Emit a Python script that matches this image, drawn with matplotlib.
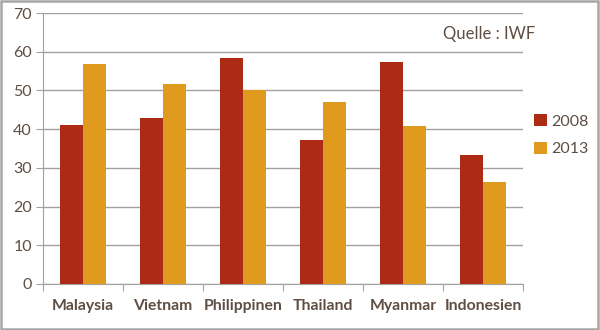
import matplotlib.pyplot as plt
import numpy as np
from matplotlib.patches import Rectangle

countries = ["Malaysia", "Vietnam", "Philippinen", "Thailand", "Myanmar", "Indonesien"]
values_2008 = [41.1, 42.9, 58.3, 37.2, 57.3, 33.3]
values_2013 = [56.8, 51.7, 50.0, 47.1, 40.7, 26.4]
y_ticks = [0, 10, 20, 30, 40, 50, 60, 70]

COLOR_2008 = "#AD2B14"
COLOR_2013 = "#E09A1E"
TEXT_COLOR = "#5E4E44"
GRID_COLOR = "#A6A09C"

plt.rcParams["font.family"] = ["Lato", "DejaVu Sans"]

fig = plt.figure(figsize=(6, 3.3), dpi=100)
ax = fig.add_axes((0.0717, 0.1394, 0.8003, 0.8212))

x = np.arange(len(countries))
width = 0.29
ax.bar(x - width / 2, values_2008, width, color=COLOR_2008, label="2008", zorder=3)
ax.bar(x + width / 2, values_2013, width, color=COLOR_2013, label="2013", zorder=3)

ax.set_xlim(-0.5, len(countries) - 0.5)
ax.set_ylim(0, 70)
ax.set_yticks(y_ticks)
ax.yaxis.grid(True, color=GRID_COLOR, linewidth=1.0, zorder=0)
ax.tick_params(axis="y", colors=GRID_COLOR, labelcolor=TEXT_COLOR, labelsize=11.5, length=5, pad=3)

# category boundaries get the tick marks, names sit in the middle
ax.set_xticks(np.arange(len(countries) + 1) - 0.5, minor=False)
ax.set_xticklabels([])
ax.set_xticks(x, minor=True)
ax.set_xticklabels(countries, minor=True, fontweight="bold", fontsize=11.3, color=TEXT_COLOR)
ax.tick_params(axis="x", which="major", colors=GRID_COLOR, length=5)
ax.tick_params(axis="x", which="minor", length=0, pad=11)

for side in ("top", "right"):
    ax.spines[side].set_visible(False)
for side in ("left", "bottom"):
    ax.spines[side].set_color(GRID_COLOR)

fig.text(0.892, 0.897, "Quelle : IWF", ha="right", va="center", fontsize=12, color=TEXT_COLOR)

fig.legend(loc="center left", bbox_to_anchor=(0.866, 0.59), frameon=False,
           fontsize=11.5, labelcolor=TEXT_COLOR, handlelength=0.8, handleheight=0.8,
           handletextpad=0.3, labelspacing=0.8)

fig.patches.append(Rectangle((0.002, 0.003), 0.995, 0.994, transform=fig.transFigure,
                             fill=False, edgecolor="#A6A6A6", linewidth=1.8))

fig.savefig("out.png", dpi=100)
